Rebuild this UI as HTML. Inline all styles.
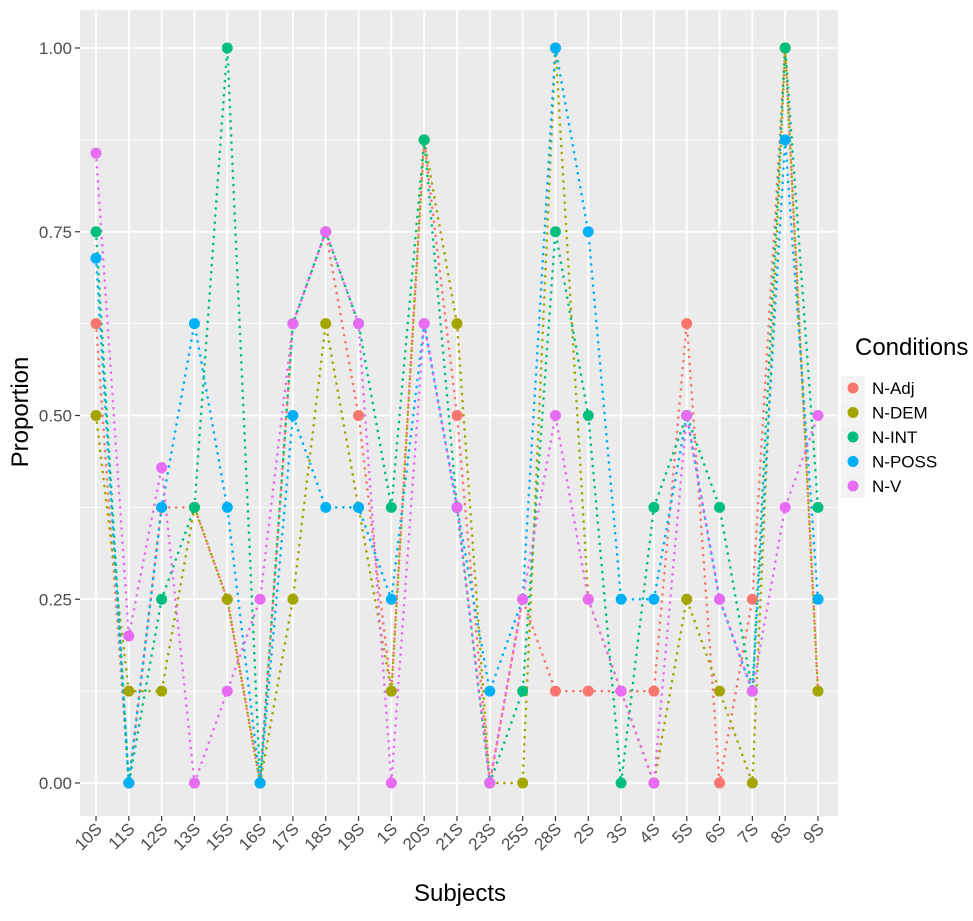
<!DOCTYPE html>
<html><head><meta charset="utf-8"><style>
body{margin:0;background:#fff;font-family:"Liberation Sans",sans-serif}
svg text{font-family:"Liberation Sans",sans-serif}
</style></head><body>
<svg id="chart" width="973" height="916">
<rect id="panel" x="80" y="10" width="758" height="806" fill="#EBEBEB"/>
<g id="grid"></g><g id="lines"></g><g id="points"></g><g id="axes"></g>
<text x="460" y="901" font-size="24" text-anchor="middle" fill="#000">Subjects</text>
<text transform="translate(28,412) rotate(-90)" font-size="24" text-anchor="middle" fill="#000">Proportion</text>
<g id="legend">
<text x="855" y="355" font-size="24" fill="#000">Conditions</text>
</g>
</svg>
<script>
const categories=["10S","11S","12S","13S","15S","16S","17S","18S","19S","1S","20S","21S","23S","25S","28S","2S","3S","4S","5S","6S","7S","8S","9S"];
const seriesNames=["N-Adj","N-DEM","N-INT","N-POSS","N-V"];
const colors=["#F8766D","#A3A500","#00BF7D","#00B0F6","#E76BF3"];
const nAdj=[0.625,0,0.375,0.375,0.25,0,0.625,0.75,0.5,0.125,0.875,0.5,0,0.25,0.125,0.125,0.125,0.125,0.625,0,0.25,1,0.125];
const nDem=[0.5,0.125,0.125,0.375,0.25,0,0.25,0.625,0.375,0.125,0.875,0.625,0,0,1,0.25,0.125,0,0.25,0.125,0,1,0.125];
const nInt=[0.75,0,0.25,0.375,1,0,0.625,0.75,0.625,0.375,0.875,0.375,0,0.125,0.75,0.5,0,0.375,0.5,0.375,0.125,1,0.375];
const nPoss=[0.714,0,0.375,0.625,0.375,0,0.5,0.375,0.375,0.25,0.625,0.375,0.125,0.25,1,0.75,0.25,0.25,0.5,0.25,0.125,0.875,0.25];
const nV=[0.857,0.2,0.429,0,0.125,0.25,0.625,0.75,0.625,0,0.625,0.375,0,0.25,0.5,0.25,0.125,0,0.5,0.25,0.125,0.375,0.5];
const yTicks=[0,0.25,0.5,0.75,1];
const yTickLabels=["0.00","0.25","0.50","0.75","1.00"];
const series=[nAdj,nDem,nInt,nPoss,nV];
const NS="http://www.w3.org/2000/svg";
const x0=96,x1=818,yb=783,yt=48;
const xs=i=>x0+i*(x1-x0)/(categories.length-1);
const ys=v=>yb-v*(yb-yt);
function mk(tag,attrs,parent){const e=document.createElementNS(NS,tag);for(const k in attrs)e.setAttribute(k,attrs[k]);parent.appendChild(e);return e;}
const grid=document.getElementById('grid'),axes=document.getElementById('axes');
for(let k=0;k<yTicks.length-1;k++){const v=(yTicks[k]+yTicks[k+1])/2;
 const l=mk('line',{x1:80,x2:838,y1:ys(v),y2:ys(v),stroke:'#fff','stroke-width':0.8},grid);
 }
yTicks.forEach((v,k)=>{
 const l=mk('line',{x1:80,x2:838,y1:ys(v),y2:ys(v),stroke:'#fff','stroke-width':1.8},grid);
 
 const t=mk('line',{x1:75,x2:80,y1:ys(v),y2:ys(v),stroke:'#333','stroke-width':1.2},axes);
 
 const tx=mk('text',{x:72,y:ys(v)+6,'font-size':17,'text-anchor':'end',fill:'#4D4D4D'},axes);
 tx.textContent=yTickLabels[k];
 
});
categories.forEach((c,i)=>{
 const l=mk('line',{x1:xs(i),x2:xs(i),y1:10,y2:816,stroke:'#fff','stroke-width':1.8},grid);
 
 const t=mk('line',{x1:xs(i),x2:xs(i),y1:816,y2:821,stroke:'#333','stroke-width':1.2},axes);
 
 const tx=mk('text',{transform:`translate(${xs(i)+7},${830}) rotate(-45)`,'font-size':17,'text-anchor':'end',fill:'#4D4D4D'},axes);
 tx.textContent=c;
 
});
const lines=document.getElementById('lines'),points=document.getElementById('points');
series.forEach((s,si)=>{
 const p=mk('polyline',{points:s.map((v,i)=>xs(i)+','+ys(v)).join(' '),fill:'none',stroke:colors[si],'stroke-width':2.6,'stroke-dasharray':'0.1 7','stroke-linecap':'round'},lines);
 
 
});
series.forEach((s,si)=>{
 s.forEach((v,i)=>{
  const c=mk('circle',{cx:xs(i),cy:ys(v),r:5.5,fill:colors[si]},points);
  
  
 });
});
const lg=document.getElementById('legend');
seriesNames.forEach((n,k)=>{
 const y=388+k*24.5;
 const r=mk('rect',{x:841,y:y-12,width:24,height:24,fill:'#F2F2F2'},lg);
 
 const c=mk('circle',{cx:853,cy:y,r:5.5,fill:colors[k]},lg);
 
 const t=mk('text',{x:872,y:y+6,'font-size':17,fill:'#000'},lg);
 t.textContent=n;
 
});
</script>
</body></html>
